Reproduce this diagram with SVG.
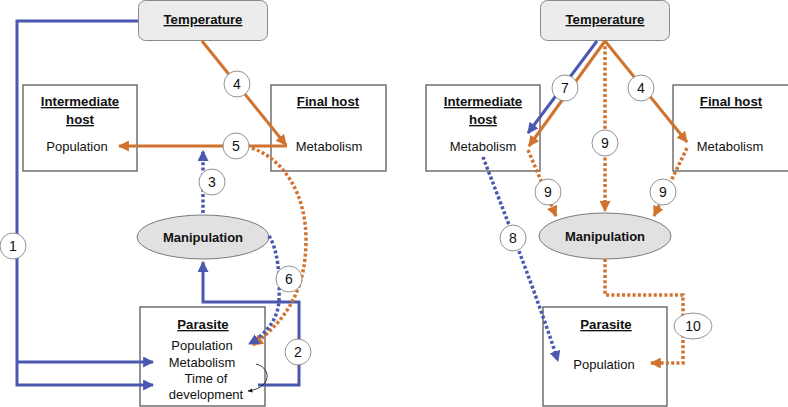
<svg xmlns="http://www.w3.org/2000/svg" width="788" height="407" viewBox="0 0 788 407">
<style>
text{font-family:"Liberation Sans",Arial,sans-serif;fill:#111}
.t{font-size:13px;text-anchor:middle}
.h{font-size:13.2px;font-weight:bold;text-anchor:middle;text-decoration:underline}
.m{font-size:13px;font-weight:bold;text-anchor:middle}
.n{font-size:14px;text-anchor:middle}
.box{fill:#fff;stroke:#5a5a5a;stroke-width:1.3}
.temp{fill:#ececec;stroke:#8a8a8a;stroke-width:1}
.ell{fill:#e1e1e1;stroke:#7a7a7a;stroke-width:1}
.lbl{fill:#fff;stroke:#777;stroke-width:0.8}
.b{fill:none;stroke:#4a58b0;stroke-width:3}
.o{fill:none;stroke:#d0732f;stroke-width:3}
.bd{fill:none;stroke:#4a58b0;stroke-width:3.5;stroke-dasharray:3 2.3}
.od{fill:none;stroke:#d0732f;stroke-width:3.5;stroke-dasharray:3 2.3}
</style>
<defs>
<marker id="ab" viewBox="0 0 10 10" refX="9" refY="5" markerWidth="11" markerHeight="11" markerUnits="userSpaceOnUse" orient="auto"><path d="M0,0 L10,5 L0,10 z" fill="#4a58b0"/></marker>
<marker id="ao" viewBox="0 0 10 10" refX="9" refY="5" markerWidth="11" markerHeight="11" markerUnits="userSpaceOnUse" orient="auto"><path d="M0,0 L10,5 L0,10 z" fill="#d0732f"/></marker>
<marker id="ak" viewBox="0 0 10 10" refX="9" refY="5" markerWidth="5" markerHeight="5" markerUnits="userSpaceOnUse" orient="auto"><path d="M0,1 L10,5 L0,9 z" fill="#111"/></marker>
</defs>

<g id="temperature-left"><rect class="temp" x="138.5" y="0.5" width="129" height="40" rx="7"/><text class="h" x="203" y="24">Temperature</text></g>
<g id="intermediate-left"><rect class="box" x="23" y="85" width="114" height="86"/><text class="h" x="80" y="106">Intermediate</text><text class="h" x="80" y="124">host</text><text class="t" x="77" y="151">Population</text></g>
<g id="final-left"><rect class="box" x="271" y="85" width="115" height="86"/><text class="h" x="328" y="106">Final host</text><text class="t" x="329" y="151">Metabolism</text></g>
<g id="manipulation-left"><ellipse class="ell" cx="203" cy="237" rx="66" ry="22"/><text class="m" x="203" y="242">Manipulation</text></g>
<g id="parasite-left"><rect class="box" x="140" y="307" width="125" height="99"/><text class="h" x="203" y="329">Parasite</text><text class="t" x="202" y="350">Population</text><text class="t" x="202" y="367">Metabolism</text><text class="t" x="206" y="383">Time of</text><text class="t" x="206" y="399">development</text></g>

<g id="temperature-right"><rect class="temp" x="540.5" y="0.5" width="129" height="40" rx="7"/><text class="h" x="605" y="24">Temperature</text></g>
<g id="intermediate-right"><rect class="box" x="426" y="85" width="114" height="86"/><text class="h" x="483" y="106">Intermediate</text><text class="h" x="483" y="124">host</text><text class="t" x="483" y="151">Metabolism</text></g>
<g id="final-right"><rect class="box" x="673" y="85" width="116" height="86"/><text class="h" x="731" y="106">Final host</text><text class="t" x="730" y="151">Metabolism</text></g>
<g id="manipulation-right"><ellipse class="ell" cx="605" cy="236" rx="66" ry="23"/><text class="m" x="605" y="241">Manipulation</text></g>
<g id="parasite-right"><rect class="box" x="543" y="307" width="124" height="99"/><text class="h" x="606" y="329">Parasite</text><text class="t" x="604" y="369">Population</text></g>

<g id="connectors">
<!-- left panel -->
<path class="b" d="M138,21 H17 V385 H153" marker-end="url(#ab)"/>
<path class="b" d="M17,362 H153" marker-end="url(#ab)"/>
<path class="o" d="M202,41 L286,145" marker-end="url(#ao)"/>
<path class="o" d="M287,146 H119" marker-end="url(#ao)"/>
<path class="bd" d="M203,213 V151" marker-end="url(#ab)"/>
<path class="b" d="M258,385 H299 V302 H203 V262" marker-end="url(#ab)"/>
<path class="od" d="M252,148 C285,160 306,195 306,240 C306,285 290,318 253,345" marker-end="url(#ao)"/>
<path class="bd" d="M269,236 C278,250 280,275 279,300 C278,320 266,334 249,344" marker-end="url(#ab)"/>
<path fill="none" stroke="#111" stroke-width="0.8" d="M256,364 C272,368 272,388 248,391" marker-end="url(#ak)"/>
<!-- right panel -->
<path class="b" d="M597,41 L528,133" marker-end="url(#ab)"/>
<path class="o" d="M605,41 L529,146" marker-end="url(#ao)"/>
<path class="o" d="M605,41 L687,142" marker-end="url(#ao)"/>
<path class="od" d="M605,41 V211" marker-end="url(#ao)"/>
<path class="od" d="M528,150 L556,216" marker-end="url(#ao)"/>
<path class="od" d="M687,148 L654,216" marker-end="url(#ao)"/>
<path class="bd" d="M483,157 C505,215 535,290 558,361" marker-end="url(#ab)"/>
<path class="od" d="M605,259 V295 H683 V363 H651" marker-end="url(#ao)"/>
</g>

<g id="labels">
<circle class="lbl" cx="13" cy="246" r="13"/><text class="n" x="13" y="251">1</text>
<circle class="lbl" cx="298" cy="352" r="13"/><text class="n" x="298" y="357">2</text>
<circle class="lbl" cx="212" cy="182" r="13"/><text class="n" x="212" y="187">3</text>
<circle class="lbl" cx="237" cy="84" r="13"/><text class="n" x="237" y="89">4</text>
<circle class="lbl" cx="236" cy="146" r="13"/><text class="n" x="236" y="151">5</text>
<circle class="lbl" cx="289" cy="279" r="13"/><text class="n" x="289" y="284">6</text>
<circle class="lbl" cx="565" cy="88" r="13"/><text class="n" x="565" y="93">7</text>
<circle class="lbl" cx="641" cy="88" r="13"/><text class="n" x="641" y="93">4</text>
<circle class="lbl" cx="605" cy="143" r="13"/><text class="n" x="605" y="148">9</text>
<circle class="lbl" cx="548" cy="192" r="13"/><text class="n" x="548" y="197">9</text>
<circle class="lbl" cx="663" cy="192" r="13"/><text class="n" x="663" y="197">9</text>
<circle class="lbl" cx="513" cy="238" r="13"/><text class="n" x="513" y="243">8</text>
<ellipse class="lbl" cx="693" cy="326" rx="19" ry="13"/><text class="n" x="693" y="331">10</text>
</g>
</svg>
